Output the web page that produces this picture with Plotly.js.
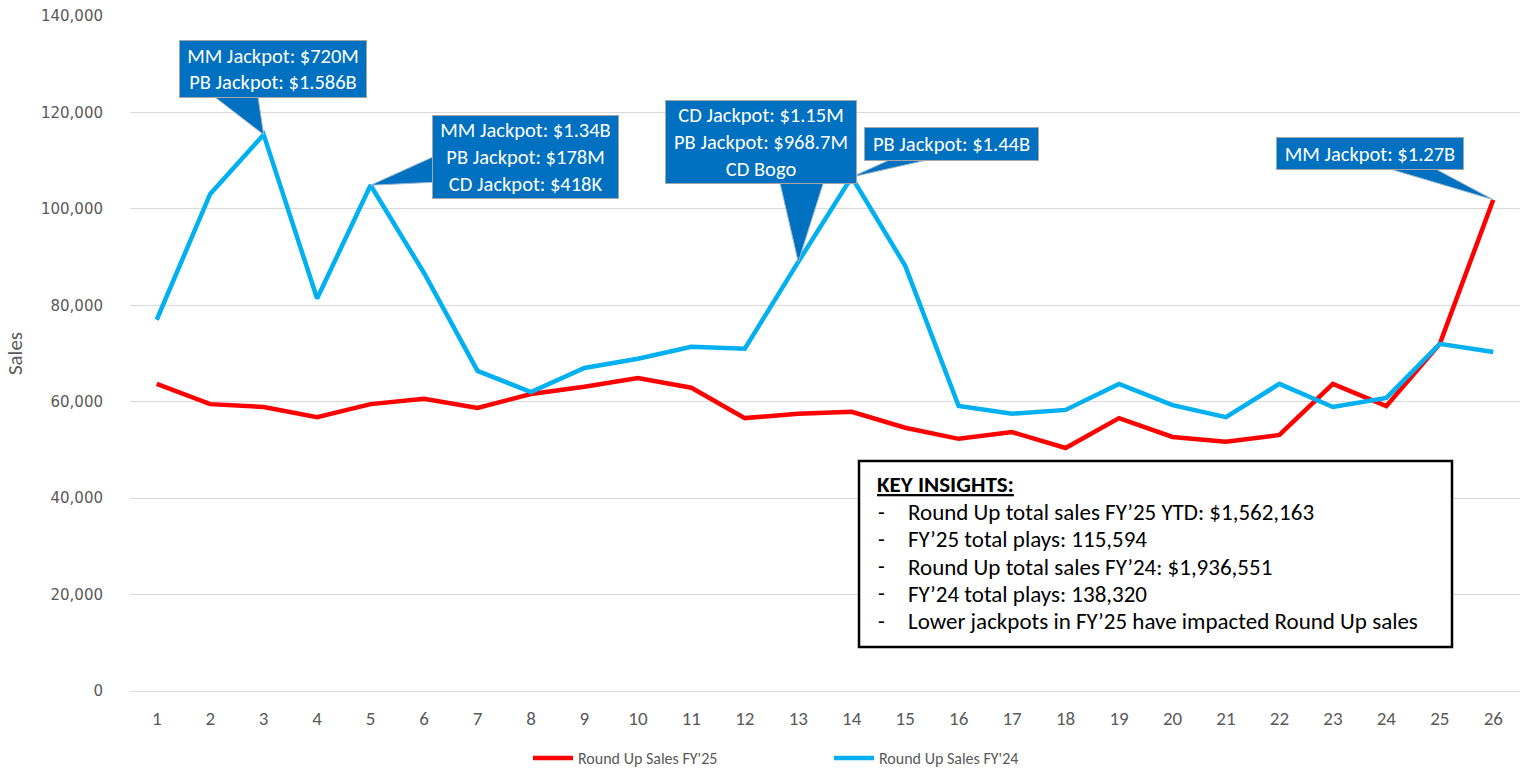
<!DOCTYPE html>
<html>
<head>
<meta charset="utf-8">
<script src="https://cdn.plot.ly/plotly-3.0.1.min.js"></script>
<style>html,body{margin:0;padding:0;background:#fff;}#chart{width:1525px;height:768px;}</style>
</head>
<body>
<div id="chart"></div>
<script>
// ---- data ----
const weeks = [1,2,3,4,5,6,7,8,9,10,11,12,13,14,15,16,17,18,19,20,21,22,23,24,25,26];
const salesFY25 = [63700,59500,58900,56800,59500,60600,58700,61600,63100,64900,62900,56600,57500,57900,54600,52300,53700,50400,56600,52700,51700,53100,63700,59100,72000,101900];
const salesFY24 = [77000,103100,115400,81400,104900,86700,66400,62000,67000,68900,71400,71000,89000,106600,88200,59100,57500,58300,63700,59300,56800,63700,58900,60800,72000,70300];
const seriesNames = ["Round Up Sales FY'25", "Round Up Sales FY'24"];
const yTicks = [0,20000,40000,60000,80000,100000,120000,140000];
const yTickLabels = ["0","20,000","40,000","60,000","80,000","100,000","120,000","140,000"];
const calloutSeries = ["FY24","FY24","FY24","FY24","FY25"];
const calloutWeek = [3,5,13,14,26];
const calloutText = [
  "MM Jackpot: $720M<br>PB Jackpot: $1.586B",
  "MM Jackpot: $1.34B<br>PB Jackpot: $178M<br>CD Jackpot: $418K",
  "CD Jackpot: $1.15M<br>PB Jackpot: $968.7M<br>CD Bogo",
  "PB Jackpot: $1.44B",
  "MM Jackpot: $1.27B"
];
const insightTitle = "KEY INSIGHTS:";
const insightLines = [
  "Round Up total sales FY\u201925 YTD: $1,562,163",
  "FY\u201925 total plays: 115,594",
  "Round Up total sales FY\u201924: $1,936,551",
  "FY\u201924 total plays: 138,320",
  "Lower jackpots in FY\u201925 have impacted Round Up sales"
];

// ---- styles / layout helpers ----
const RED = "#FF0000", BLUE = "#00B0F0", CALL = "#0070C0";
const FONT = "Carlito, Lato, 'Open Sans', sans-serif";
const L = 130, R = 5, T = 16, B = 77, W = 1525, H = 768;
const pw = W - L - R, ph = H - T - B;
const px2paperX = p => (p - L) / pw;
const px2paperY = p => (H - B - p) / ph;

// callout box geometry (offsets in px from data point, box size) and wedge (px offsets, up positive)
const calloutStyle = [
  {ax: 9,    ay: -66,   w: 184, h: 54, fs: 20.5, wedge: [[-52, 40], [-6, 40]]},
  {ax: 155,  ay: -28,   w: 183, h: 80, fs: 20.5, wedge: [[64, 29], [64, 3]]},
  {ax: -37,  ay: -120,  w: 188, h: 80, fs: 20.5, wedge: [[-19, 82], [26, 82]]},
  {ax: 99.5, ay: -33,   w: 171, h: 30, fs: 20.5, wedge: [[42, 19], [84, 19]]},
  {ax: -123, ay: -46.5, w: 184, h: 29, fs: 20.5, wedge: [[-111, 33], [-62, 33]]}
];

const traces = [
  {x: weeks, y: salesFY25, name: seriesNames[0], type: "scatter", mode: "lines",
   line: {color: RED, width: 4.5}, hoverinfo: "x+y"},
  {x: weeks, y: salesFY24, name: seriesNames[1], type: "scatter", mode: "lines",
   line: {color: BLUE, width: 4.5}, hoverinfo: "x+y"}
];

const shapes = [];
const annotations = [];

calloutWeek.forEach((wk, i) => {
  const yv = (calloutSeries[i] === "FY24" ? salesFY24 : salesFY25)[weeks.indexOf(wk)];
  const st = calloutStyle[i];
  const [p1, p2] = st.wedge;
  shapes.push({
    type: "path", xref: "x", yref: "y", xsizemode: "pixel", ysizemode: "pixel",
    xanchor: wk, yanchor: yv,
    path: `M0,0 L${p1[0]},${p1[1]} L${p2[0]},${p2[1]} Z`,
    fillcolor: CALL, line: {color: "#9DB8CC", width: 1}, layer: "above"
  });
  annotations.push({
    x: wk, y: yv, xref: "x", yref: "y", text: calloutText[i],
    showarrow: true, arrowcolor: "rgba(0,0,0,0)", arrowwidth: 0.1, ax: st.ax, ay: st.ay,
    width: st.w, height: st.h, align: "center", valign: "middle",
    bgcolor: CALL, bordercolor: "#A6A6A6", borderwidth: 1, borderpad: 1,
    font: {family: FONT, size: st.fs, color: "#FFFFFF"}
  });
});

// insights box
shapes.push({
  type: "rect", xref: "paper", yref: "paper",
  x0: px2paperX(859), x1: px2paperX(1452), y0: px2paperY(647), y1: px2paperY(461),
  fillcolor: "#FFFFFF", line: {color: "#000000", width: 2.5}, layer: "above"
});
annotations.push({
  xref: "paper", yref: "paper", x: px2paperX(875), y: px2paperY(484), xanchor: "left", yanchor: "middle",
  text: "<b><u>" + insightTitle + "</u></b>", showarrow: false,
  font: {family: FONT, size: 23, color: "#000000"}
});
insightLines.forEach((t, i) => {
  const yp = px2paperY(512 + i * 27.3);
  annotations.push({xref: "paper", yref: "paper", x: px2paperX(876), y: yp, xanchor: "left", yanchor: "middle",
    text: "-", showarrow: false, font: {family: FONT, size: 22, color: "#000000"}});
  annotations.push({xref: "paper", yref: "paper", x: px2paperX(906), y: yp, xanchor: "left", yanchor: "middle",
    text: t, showarrow: false, font: {family: FONT, size: 23, color: "#000000"}});
});

const layout = {
  width: W, height: H,
  margin: {l: L, r: R, t: T, b: B, pad: 0, autoexpand: false},
  paper_bgcolor: "#FFFFFF", plot_bgcolor: "#FFFFFF",
  font: {family: FONT, color: "#595959"},
  showlegend: true,
  legend: {orientation: "h", x: px2paperX(528), xanchor: "left", y: px2paperY(758), yanchor: "middle",
    font: {family: FONT, size: 16, color: "#595959"}, entrywidth: 246, entrywidthmode: "pixels",
    itemwidth: 40, traceorder: "normal", bgcolor: "rgba(0,0,0,0)"},
  xaxis: {range: [0.5, 26.5], tickvals: weeks, ticktext: weeks.map(String), showgrid: false,
    showline: true, linecolor: "#D9D9D9", linewidth: 1, zeroline: false, ticks: "",
    ticklabelstandoff: 10, tickfont: {family: FONT, size: 19, color: "#595959"}, fixedrange: true},
  yaxis: {range: [0, 140000], tickvals: yTicks, ticktext: yTickLabels, showgrid: true,
    gridcolor: "#D9D9D9", gridwidth: 1, zeroline: false, showline: false, ticks: "",
    ticklabelstandoff: 26, tickfont: {family: "'DejaVu Sans', Verdana, sans-serif", size: 15, color: "#595959"},
    title: {text: "Sales", standoff: 12, font: {family: FONT, size: 21, color: "#595959"}}, fixedrange: true},
  shapes: shapes,
  annotations: annotations
};

Plotly.newPlot("chart", traces, layout, {displayModeBar: false, staticPlot: true});
</script>
</body>
</html>
